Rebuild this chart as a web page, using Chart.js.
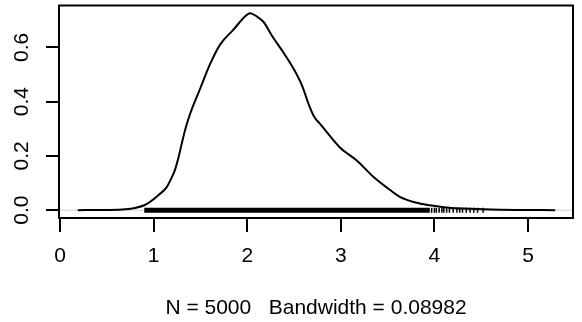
<!DOCTYPE html>
<html>
<head>
<meta charset="utf-8">
<script src="https://cdn.jsdelivr.net/npm/chart.js@4/dist/chart.umd.min.js"></script>
<style>
  html, body { margin: 0; padding: 0; background: #ffffff; }
  #wrap { width: 582px; height: 322px; }
</style>
</head>
<body>
<div id="wrap"><canvas id="c" width="582" height="322"></canvas></div>
<script>
// ---- data ----
const densityX = [0.19, 0.50, 0.70, 0.80, 0.90, 0.96, 1.05, 1.14, 1.19, 1.23, 1.27, 1.30, 1.34, 1.39, 1.50, 1.60, 1.71, 1.85, 1.99, 2.03, 2.10, 2.17, 2.28, 2.39, 2.49, 2.58, 2.67, 2.72, 2.78, 2.99, 3.17, 3.35, 3.53, 3.63, 3.80, 3.95, 4.10, 4.31, 4.60, 4.90, 5.29];
const densityY = [0.000, 0.0005, 0.003, 0.008, 0.018, 0.030, 0.055, 0.085, 0.118, 0.150, 0.200, 0.245, 0.300, 0.355, 0.450, 0.536, 0.610, 0.664, 0.718, 0.725, 0.714, 0.695, 0.634, 0.579, 0.524, 0.463, 0.378, 0.341, 0.317, 0.231, 0.183, 0.122, 0.073, 0.049, 0.028, 0.018, 0.011, 0.006, 0.002, 0.0005, 0.000];
// dense run of sample points (drawn as a solid band) and the sparse ones beyond it
const sampleSpan = [0.90, 3.95];
const sparseSamples = [3.97, 4.00, 4.02, 4.05, 4.08, 4.10, 4.13, 4.16, 4.20, 4.24, 4.27, 4.30, 4.34, 4.38, 4.42, 4.46, 4.52];
const xTicks = [0, 1, 2, 3, 4, 5];
const yTicks = [0.0, 0.2, 0.4, 0.6];
const xRange = [-0.011, 5.48];
const yRange = [-0.029, 0.754];
const xTitle = "N = 5000   Bandwidth = 0.08982";

const FONT = '"Liberation Sans", Arial, Helvetica, sans-serif';
const FS = 21;

const rPlot = {
  id: 'rPlot',
  beforeDatasetsDraw(chart) {
    // zero line (abline h = 0, grey)
    const {ctx, chartArea: a, scales: {y}} = chart;
    const py = y.getPixelForValue(0);
    ctx.save();
    ctx.strokeStyle = '#d0d0d0';
    ctx.lineWidth = 1;
    ctx.beginPath();
    ctx.moveTo(a.left, py);
    ctx.lineTo(a.right, py);
    ctx.stroke();
    ctx.restore();
  },
  afterDraw(chart) {
    const {ctx, chartArea: a, scales: {y}} = chart;
    ctx.save();
    // box
    ctx.strokeStyle = '#000';
    ctx.lineWidth = 2;
    ctx.strokeRect(a.left, a.top, a.right - a.left, a.bottom - a.top);
    // rotated y tick labels (R style, las = 0)
    ctx.fillStyle = '#000';
    ctx.font = FS + 'px ' + FONT;
    ctx.textAlign = 'center';
    ctx.textBaseline = 'middle';
    y.ticks.forEach(t => {
      const py = y.getPixelForValue(t.value);
      ctx.save();
      ctx.translate(21, py);
      ctx.rotate(-Math.PI / 2);
      ctx.fillText(t.value.toFixed(1), 0, 1);
      ctx.restore();
    });
    ctx.restore();
  }
};

new Chart(document.getElementById('c'), {
  type: 'scatter',
  data: {
    datasets: [
      {
        label: 'sample band',
        data: sampleSpan.map(v => ({x: v, y: 0})),
        showLine: true,
        borderColor: '#000',
        borderWidth: 5,
        borderCapStyle: 'butt',
        pointRadius: 0,
        order: 3
      },
      {
        label: 'sparse samples',
        data: sparseSamples.map(v => ({x: v, y: 0})),
        showLine: false,
        pointStyle: 'line',
        rotation: 90,
        pointRadius: 2.5,
        pointBorderWidth: 1.5,
        pointBorderColor: '#000',
        pointBackgroundColor: '#000',
        order: 2
      },
      {
        label: 'density',
        data: densityX.map((v, i) => ({x: v, y: densityY[i]})),
        showLine: true,
        borderColor: '#000',
        borderWidth: 2,
        pointRadius: 0,
        cubicInterpolationMode: 'monotone',
        fill: false,
        order: 1
      }
    ]
  },
  options: {
    responsive: false,
    animation: false,
    devicePixelRatio: 1,
    layout: { padding: { top: 4, right: 9, left: 0, bottom: 0 } },
    plugins: { legend: { display: false }, tooltip: { enabled: false } },
    scales: {
      x: {
        type: 'linear',
        position: 'bottom',
        min: xRange[0],
        max: xRange[1],
        afterBuildTicks: s => { s.ticks = xTicks.map(v => ({value: v})); },
        afterFit: s => { s.height = 104; },
        border: { display: false },
        grid: { drawOnChartArea: false, drawTicks: true, tickLength: 14, tickColor: '#000', tickWidth: 2, lineWidth: 2 },
        ticks: { color: '#000', font: { family: FONT, size: FS }, padding: 12, maxRotation: 0, minRotation: 0, callback: v => String(v) },
        title: { display: true, text: xTitle, color: '#000', font: { family: FONT, size: FS }, padding: { top: 0, bottom: 1 } }
      },
      y: {
        type: 'linear',
        position: 'left',
        min: yRange[0],
        max: yRange[1],
        afterBuildTicks: s => { s.ticks = yTicks.map(v => ({value: v})); },
        afterFit: s => { s.width = 59; },
        border: { display: false },
        grid: { drawOnChartArea: false, drawTicks: true, tickLength: 13, tickColor: '#000', tickWidth: 2, lineWidth: 2 },
        ticks: { display: false }
      }
    }
  },
  plugins: [rPlot]
});
</script>
</body>
</html>
